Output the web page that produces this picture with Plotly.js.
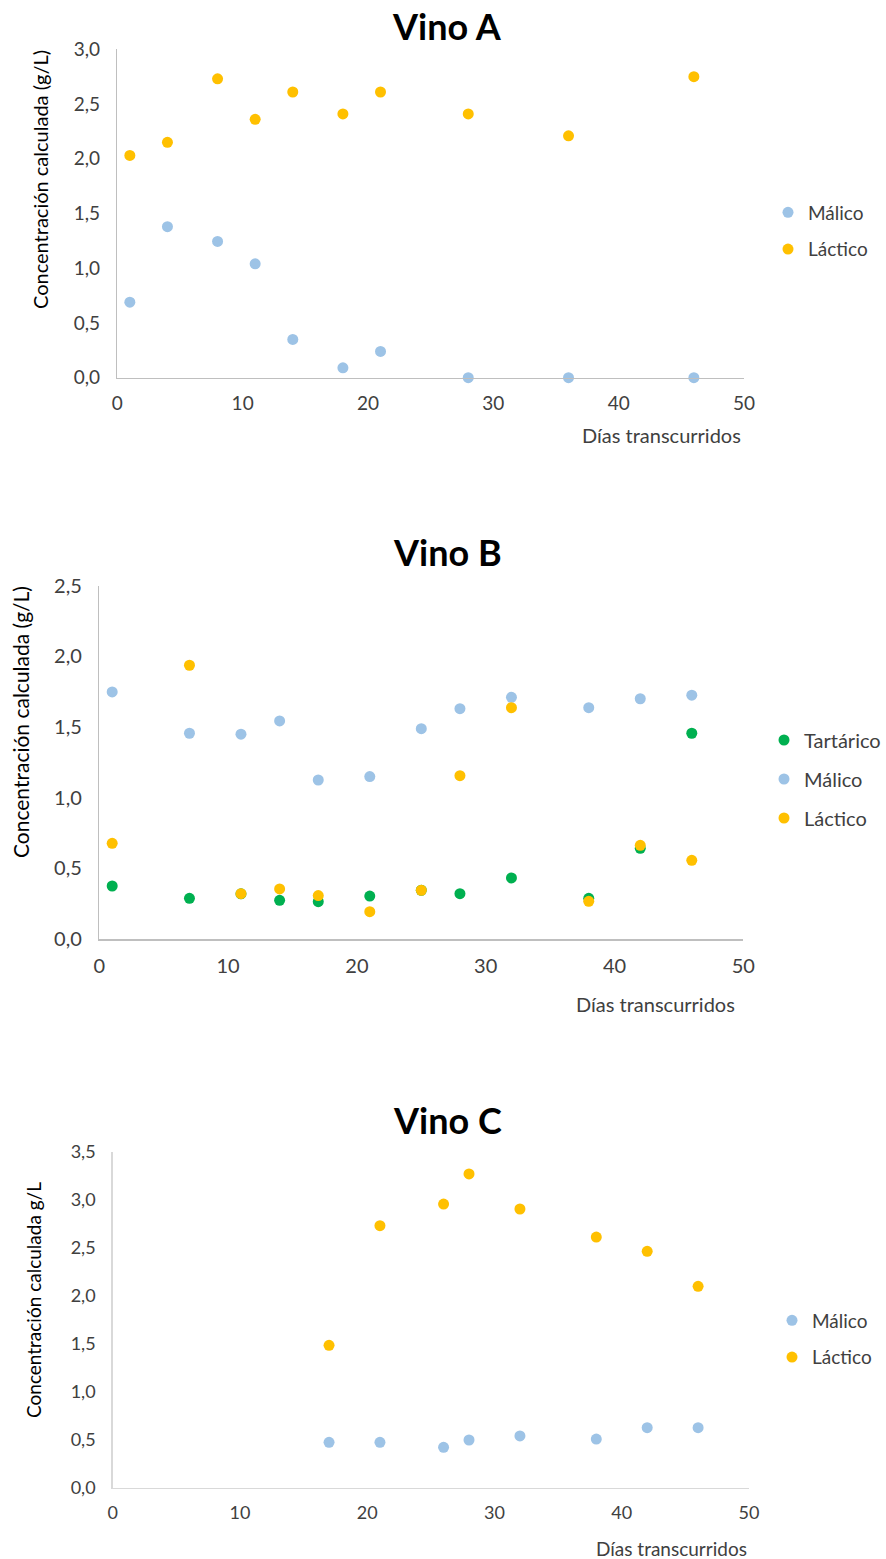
<!DOCTYPE html>
<html><head><meta charset="utf-8">
<script src="https://cdn.plot.ly/plotly-3.0.1.min.js"></script>
<style>html,body{margin:0;padding:0;background:#fff}#chart{width:886px;height:1559px}</style>
</head><body><div id="chart"></div>
<script>
// Vino A
const diasA = [1, 4, 8, 11, 14, 18, 21, 28, 36, 46];
const malicoA = [0.69, 1.38, 1.245, 1.04, 0.35, 0.09, 0.24, 0, 0, 0];
const lacticoA = [2.03, 2.15, 2.73, 2.36, 2.61, 2.41, 2.61, 2.41, 2.21, 2.75];
// Vino B
const diasB = [1, 7, 11, 14, 17, 21, 25, 28, 32, 38, 42, 46];
const tartaricoB = [0.375, 0.288, 0.32, 0.274, 0.264, 0.304, 0.345, 0.321, 0.432, 0.288, 0.642, 1.456];
const malicoB = [1.748, 1.456, 1.449, 1.543, 1.125, 1.149, 1.488, 1.63, 1.71, 1.637, 1.70, 1.725];
const lacticoB = [0.677, 1.937, 0.321, 0.354, 0.307, 0.193, 0.345, 1.156, 1.637, 0.267, 0.663, 0.557];
// Vino C
const diasC = [17, 21, 26, 28, 32, 38, 42, 46];
const malicoC = [0.473, 0.473, 0.421, 0.497, 0.539, 0.507, 0.625, 0.625];
const lacticoC = [1.483, 2.729, 2.955, 3.268, 2.903, 2.611, 2.462, 2.098];

const titles = ["Vino A", "Vino B", "Vino C"];
const yTitles = ["Concentración calculada (g/L)", "Concentración calculada (g/L)", "Concentración calculada g/L"];
const xTitle = "Días transcurridos";

const W = 886, H = 1559;
const px = v => v / W;
const py = v => 1 - v / H;

const C_MAL = '#9DC3E6', C_LAC = '#FFC000', C_TAR = '#00B050';
const FONT = 'Lato, "Open Sans", sans-serif';

function tr(x, y, name, color, xa, ya, leg, grp) {
  return {type: 'scatter', mode: 'markers', x: x, y: y, name: name,
    xaxis: xa, yaxis: ya, legend: leg, legendgroup: grp, cliponaxis: false,
    marker: {color: color, size: 11}};
}

const data = [
  tr(diasA, malicoA, 'Málico', C_MAL, 'x', 'y', 'legend', 'a1'),
  tr(diasA, lacticoA, 'Láctico', C_LAC, 'x', 'y', 'legend', 'a2'),
  tr(diasB, tartaricoB, 'Tartárico', C_TAR, 'x2', 'y2', 'legend2', 'b1'),
  tr(diasB, malicoB, 'Málico', C_MAL, 'x2', 'y2', 'legend2', 'b2'),
  tr(diasB, lacticoB, 'Láctico', C_LAC, 'x2', 'y2', 'legend2', 'b3'),
  tr(diasC, malicoC, 'Málico', C_MAL, 'x3', 'y3', 'legend3', 'c1'),
  tr(diasC, lacticoC, 'Láctico', C_LAC, 'x3', 'y3', 'legend3', 'c2')
];

function xaxis(dom, anchor, lc, fs) {
  return {domain: dom, anchor: anchor, range: [0, 50], dtick: 10, tick0: 0,
    showgrid: false, zeroline: false, showline: true, linecolor: lc, linewidth: 1.5,
    ticks: '', ticklabelstandoff: 8, automargin: false, fixedrange: true,
    tickfont: {family: FONT, size: fs, color: '#404040'}};
}
function yaxis(dom, anchor, max, lc, fs) {
  return {domain: dom, anchor: anchor, range: [0, max], dtick: 0.5, tick0: 0,
    tickformat: '.1f', showgrid: false, zeroline: false, showline: true,
    linecolor: lc, linewidth: 1.5, ticks: '', ticklabelstandoff: 12,
    automargin: false, fixedrange: true,
    tickfont: {family: FONT, size: fs, color: '#404040'}};
}
function legend(xp, yc, fs, gap) {
  return {x: px(xp), y: py(yc), xanchor: 'left', yanchor: 'middle',
    traceorder: 'grouped', tracegroupgap: gap, bgcolor: 'rgba(0,0,0,0)',
    font: {family: FONT, size: fs, color: '#404040'}};
}

const ann = [];
function title(text, xc, yc) {
  ann.push({text: '<b>' + text + '</b>', xref: 'paper', yref: 'paper', x: px(xc), y: py(yc),
    xanchor: 'center', yanchor: 'middle', showarrow: false,
    font: {family: FONT, size: 36, color: '#000'}});
}
function ytitle(text, xc, yc, fs) {
  ann.push({text: text, xref: 'paper', yref: 'paper', x: px(xc), y: py(yc), textangle: -90,
    xanchor: 'center', yanchor: 'middle', showarrow: false,
    font: {family: FONT, size: fs, color: '#000'}});
}
function xtitle(text, xr, yc, fs) {
  ann.push({text: text, xref: 'paper', yref: 'paper', x: px(xr), y: py(yc),
    xanchor: 'right', yanchor: 'middle', showarrow: false,
    font: {family: FONT, size: fs, color: '#404040'}});
}
title(titles[0], 447, 26);
title(titles[1], 447, 552);
title(titles[2], 447, 1120);
ytitle(yTitles[0], 40, 180, 20);
ytitle(yTitles[1], 20, 722, 21);
ytitle(yTitles[2], 33, 1300, 19);
xtitle(xTitle, 743, 435, 20);
xtitle(xTitle, 737, 1004, 20);
xtitle(xTitle, 749, 1548, 19);

const layout = {
  width: W, height: H, margin: {l: 0, r: 0, t: 0, b: 0, autoexpand: false},
  paper_bgcolor: '#fff', plot_bgcolor: '#fff', separators: ',.',
  showlegend: true,
  xaxis: xaxis([px(117.3), px(744)], 'y', '#bfbfbf', 19),
  yaxis: yaxis([py(377.7), py(49.3)], 'x', 3, '#bfbfbf', 19),
  xaxis2: xaxis([px(99.3), px(743.3)], 'y2', '#bfbfbf', 20),
  yaxis2: yaxis([py(939), py(585.7)], 'x2', 2.5, '#bfbfbf', 20),
  xaxis3: xaxis([px(112.7), px(749)], 'y3', '#d9d9d9', 18),
  yaxis3: yaxis([py(1487.7), py(1151.7)], 'x3', 3.5, '#d9d9d9', 18),
  legend: legend(768, 231, 19, 9),
  legend2: legend(764, 779, 20, 10),
  legend3: legend(772, 1339, 19, 9),
  annotations: ann
};

Plotly.newPlot('chart', data, layout, {staticPlot: true, displayModeBar: false});
</script></body></html>
